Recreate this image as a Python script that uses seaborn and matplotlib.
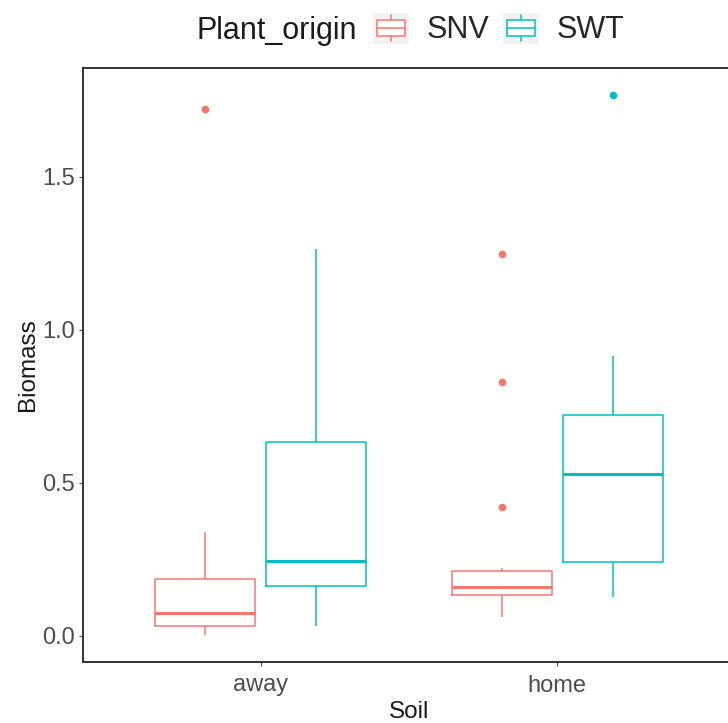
import numpy as np
import pandas as pd
import matplotlib
matplotlib.use("Agg")
import matplotlib.pyplot as plt
import seaborn as sns
from matplotlib.legend_handler import HandlerBase
from matplotlib.patches import Rectangle, Patch
from matplotlib.lines import Line2D

# Biomass measurements per soil type and plant origin
soils = ["away", "home"]
origins = ["SNV", "SWT"]
away_snv = [0.003, 0.020, 0.034, 0.050, 0.075, 0.120, 0.185, 0.340, 1.721]
away_swt = [0.031, 0.100, 0.163, 0.200, 0.246, 0.450, 0.634, 0.900, 1.264]
home_snv = [0.063, 0.090, 0.110, 0.125, 0.135, 0.140, 0.145, 0.152, 0.159,
            0.170, 0.185, 0.200, 0.212, 0.221, 0.422, 0.829, 1.248]
home_swt = [0.127, 0.180, 0.240, 0.400, 0.528, 0.620, 0.721, 0.916, 1.767]
y_ticks = [0.0, 0.5, 1.0, 1.5]
colors = ["#F8766D", "#00BFC4"]

rows = []
for soil, origin, vals in [("away", "SNV", away_snv), ("away", "SWT", away_swt),
                           ("home", "SNV", home_snv), ("home", "SWT", home_swt)]:
    for v in vals:
        rows.append({"Soil": soil, "Plant_origin": origin, "Biomass": v})
df = pd.DataFrame(rows)

sns.set_theme(style="white")
plt.rcParams["font.family"] = ["Liberation Sans", "DejaVu Sans"]

W, H = 728, 723
fig = plt.figure(figsize=(W / 100, H / 100), dpi=100)
fig.patch.set_facecolor("white")
ax = fig.add_axes([83 / W, (H - 662) / H, (735 - 83) / W, (662 - 68) / H])

sns.boxplot(data=df, x="Soil", y="Biomass", hue="Plant_origin",
            order=soils, hue_order=origins, palette=colors, fill=False,
            width=0.75, gap=0.1, linewidth=1.1, showcaps=False,
            medianprops={"linewidth": 2.2},
            flierprops={"marker": "o", "markersize": 4.5},
            legend=False, ax=ax)

# solid coloured outlier dots
for line in ax.lines:
    if line.get_marker() == "o":
        c = line.get_markeredgecolor()
        line.set_markerfacecolor(c)
        line.set_markeredgecolor(c)

vals_all = df["Biomass"].to_numpy()
rng = vals_all.max() - vals_all.min()
ax.set_ylim(vals_all.min() - 0.05 * rng, vals_all.max() + 0.05 * rng)
ax.set_xlim(-0.6, 1.6)
ax.set_yticks(y_ticks)
ax.set_yticklabels([f"{t:.1f}" for t in y_ticks])

for side in ["left", "bottom", "top"]:
    ax.spines[side].set_visible(True)
    ax.spines[side].set_color("#333333")
    ax.spines[side].set_linewidth(1.4)
ax.spines["right"].set_visible(False)

ax.tick_params(axis="both", which="major", length=3, width=0.9, color="#555555",
               labelsize=17, labelcolor="#4D4D4D", pad=3, left=True, bottom=True)
ax.tick_params(axis="x", pad=6)
ax.set_xlabel("Soil", fontsize=17.5, color="#1A1A1A", labelpad=3)
ax.set_ylabel("Biomass", fontsize=17.5, color="#1A1A1A", labelpad=2)


class BoxKeyHandler(HandlerBase):
    """Legend key drawn as a small boxplot glyph on a grey tile."""

    def create_artists(self, legend, orig_handle, xdescent, ydescent,
                       width, height, fontsize, trans):
        color = orig_handle.get_edgecolor()
        x0, y0 = -xdescent, -ydescent
        bg = Rectangle((x0, y0), width, height, facecolor="#F2F2F2",
                       edgecolor="none", transform=trans)
        bx, bw = x0 + width * 0.1, width * 0.8
        box = Rectangle((bx, y0 + height * 0.25), bw, height * 0.5,
                        facecolor="white", edgecolor=color, lw=1.1,
                        transform=trans)
        med = Line2D([bx, bx + bw], [y0 + height * 0.5] * 2, color=color,
                     lw=1.1, transform=trans)
        xm = x0 + width / 2
        w1 = Line2D([xm, xm], [y0 + height * 0.08, y0 + height * 0.25],
                    color=color, lw=1.1, transform=trans)
        w2 = Line2D([xm, xm], [y0 + height * 0.75, y0 + height * 0.92],
                    color=color, lw=1.1, transform=trans)
        return [bg, box, med, w1, w2]


handles = [Patch(facecolor="white", edgecolor=c, label=o)
           for o, c in zip(origins, colors)]
fig.legend(handles=handles, labels=origins, ncol=2, loc="center left",
           bbox_to_anchor=(373 / W, 1 - 29 / H), frameon=False,
           fontsize=22, handlelength=1.18, handleheight=1.2,
           handletextpad=0.56, columnspacing=0.46, borderpad=0,
           borderaxespad=0, handler_map={Patch: BoxKeyHandler()})
fig.text(357 / W, 1 - 39 / H, "Plant_origin", ha="right", va="baseline",
         fontsize=22, color="#1A1A1A")

fig.savefig("out.png", dpi=100, facecolor="white")
